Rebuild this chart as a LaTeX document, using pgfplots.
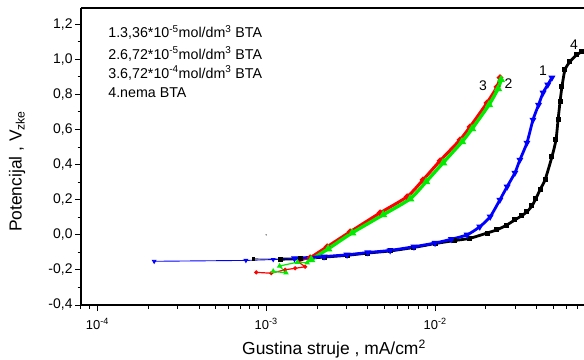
\documentclass[border=0pt]{standalone}
\usepackage{fontspec}
\setmainfont{Liberation Sans}
\usepackage{pgfplots}
\pgfplotsset{compat=1.18}
\definecolor{cblue}{RGB}{0,0,255}
\definecolor{cred}{RGB}{255,0,0}
\definecolor{cgreen}{RGB}{0,235,0}
\begin{document}
\begin{tikzpicture}
\useasboundingbox (-81bp,-55bp) rectangle (503bp,305bp);
\begin{axis}[
 scale only axis, width=503bp, height=297bp,
 xmode=log, xmin=8e-5, xmax=0.0762, ymin=-0.4, ymax=1.292,
 axis lines=left, axis line style={-, line width=1.2bp},
 clip=false,
 tick align=outside,
 major tick length=6bp, minor tick length=3.5bp,
 every tick/.style={black, line width=1bp},
 xtick={1e-4,1e-3,1e-2},
 xticklabels={10\textsuperscript{-4},10\textsuperscript{-3},10\textsuperscript{-2}},
 minor xtick={8e-5,9e-5,2e-4,3e-4,4e-4,5e-4,6e-4,7e-4,8e-4,9e-4,2e-3,3e-3,4e-3,5e-3,6e-3,7e-3,8e-3,9e-3,2e-2,3e-2,4e-2,5e-2,6e-2,7e-2},
 ytick={-0.4,-0.2,0,0.2,0.4,0.6,0.8,1.0,1.2},
 yticklabels={{-0,4},{-0,2},{0,0},{0,2},{0,4},{0,6},{0,8},{1,0},{1,2}},
 minor ytick={-0.3,-0.1,0.1,0.3,0.5,0.7,0.9,1.1},
 yticklabel style={font=\fontsize{14}{16}\selectfont, xshift=1bp},
 xticklabel style={font=\fontsize{13}{15}\selectfont, yshift=-4bp},
 xlabel={Gustina struje , mA/cm\textsuperscript{2}},
 ylabel={Potencijal , V\textsubscript{zke}},
 xlabel style={font=\fontsize{17.5}{19}\selectfont, at={(axis description cs:0.503,-0.148)}, anchor=center},
 ylabel style={font=\fontsize{17.5}{19}\selectfont, at={(axis description cs:-0.127,0.45)}, anchor=center},
]
\draw[line width=1.2bp] (rel axis cs:0,1) -- (rel axis cs:1,1);

% curve 4 (black)
\addplot[black!80, line width=0.8bp, mark=square*, mark size=1.2bp, mark options={black}] coordinates {
(8.38e-4,-0.137) (1.21e-3,-0.139)};
\addplot[black, line width=2.8bp, smooth, tension=0.4, mark=square*, mark size=1.1bp] coordinates {
(1.21e-3,-0.139) (1.6e-3,-0.136) (2.2e-3,-0.127) (3.01e-3,-0.117) (4.0e-3,-0.104)
(5.42e-3,-0.092) (7.5e-3,-0.072) (1.0e-2,-0.050) (1.3e-2,-0.033) (1.61e-2,-0.020)
(2.03e-2,0.010) (2.32e-2,0.028) (2.65e-2,0.055) (2.97e-2,0.085) (3.25e-2,0.108)
(3.50e-2,0.131) (3.75e-2,0.165) (3.95e-2,0.205) (4.2e-2,0.260) (4.48e-2,0.313)
(4.92e-2,0.444) (5.20e-2,0.541) (5.35e-2,0.655) (5.50e-2,0.760) (5.64e-2,0.843)
(5.88e-2,0.940) (6.29e-2,0.986) (6.92e-2,1.026) (7.41e-2,1.043)};

% curve 3 (red)
\addplot[cred, line width=1.2bp, mark=*, mark size=1.4bp] coordinates {
(8.727e-4,-0.214) (1.071e-3,-0.219) (1.295e-3,-0.199) (1.484e-3,-0.191)
(1.701e-3,-0.182) (1.546e-3,-0.154) (1.822e-3,-0.131)};
\addplot[cred, line width=3bp, smooth, tension=0.4, mark=*, mark size=1.4bp] coordinates {
(1.822e-3,-0.131) (2.296e-3,-0.068) (3.141e-3,0.017) (4.727e-3,0.125)
(6.830e-3,0.217) (8.49e-3,0.313) (1.071e-2,0.422) (1.405e-2,0.541)
(1.611e-2,0.615) (2.031e-2,0.752) (2.327e-2,0.843) (2.424e-2,0.895)};

% curve 2 (green)
\addplot[cgreen, line width=1.2bp, mark=triangle*, mark size=2bp] coordinates {
(1.10e-3,-0.208) (1.31e-3,-0.217) (1.20e-3,-0.178) (1.53e-3,-0.156)
(1.75e-3,-0.160) (1.846e-3,-0.142)};
\addplot[cgreen, line width=3.4bp, smooth, tension=0.4, mark=triangle*, mark size=1.5bp] coordinates {
(1.846e-3,-0.142) (2.327e-3,-0.080) (3.228e-3,0.011) (4.925e-3,0.114)
(7.114e-3,0.205) (8.846e-3,0.302) (1.115e-2,0.410) (1.444e-2,0.530)
(1.656e-2,0.604) (2.087e-2,0.741) (2.359e-2,0.832) (2.457e-2,0.883)};

% curve 1 (blue)
\addplot[cblue, line width=0.9bp, mark=triangle*, mark size=2bp, mark options={rotate=180}] coordinates {
(2.17e-4,-0.151) (7.58e-4,-0.146) (1.10e-3,-0.141) (1.47e-3,-0.134)};
\addplot[cblue, line width=2.8bp, smooth, tension=0.4, mark=triangle*, mark size=1.3bp, mark options={rotate=180}] coordinates {
(1.47e-3,-0.134) (2.2e-3,-0.124) (3.01e-3,-0.114) (4.0e-3,-0.101) (5.42e-3,-0.089)
(7.5e-3,-0.068) (1.0e-2,-0.047) (1.25e-2,-0.025) (1.55e-2,0.000) (1.84e-2,0.046)
(2.12e-2,0.103) (2.42e-2,0.199) (2.67e-2,0.274) (2.97e-2,0.353) (3.18e-2,0.427)
(3.50e-2,0.524) (3.80e-2,0.655) (4.1e-2,0.740) (4.36e-2,0.809) (4.65e-2,0.855)
(4.92e-2,0.895)};

\addplot[only marks, gray, mark=*, mark size=0.5bp] coordinates {(1e-3,0)};

\node[font=\fontsize{14}{16}\selectfont] at (axis cs:0.0436,0.934) {1};
\node[font=\fontsize{14}{16}\selectfont] at (axis cs:0.0272,0.860) {2};
\node[font=\fontsize{14}{16}\selectfont] at (axis cs:0.0192,0.849) {3};
\node[font=\fontsize{14}{16}\selectfont] at (axis cs:0.0664,1.083) {4};

\node[anchor=base west, font=\fontsize{14.3}{16}\selectfont, inner sep=0pt] at (rel axis cs:0.054,0.899) {1.3,36*10\textsuperscript{-5}mol/dm\textsuperscript{3} BTA};
\node[anchor=base west, font=\fontsize{14.3}{16}\selectfont, inner sep=0pt] at (rel axis cs:0.054,0.828) {2.6,72*10\textsuperscript{-5}mol/dm\textsuperscript{3} BTA};
\node[anchor=base west, font=\fontsize{14.3}{16}\selectfont, inner sep=0pt] at (rel axis cs:0.054,0.764) {3.6,72*10\textsuperscript{-4}mol/dm\textsuperscript{3} BTA};
\node[anchor=base west, font=\fontsize{14.3}{16}\selectfont, inner sep=0pt] at (rel axis cs:0.054,0.700) {4.nema BTA};
\end{axis}
\end{tikzpicture}
\end{document}
